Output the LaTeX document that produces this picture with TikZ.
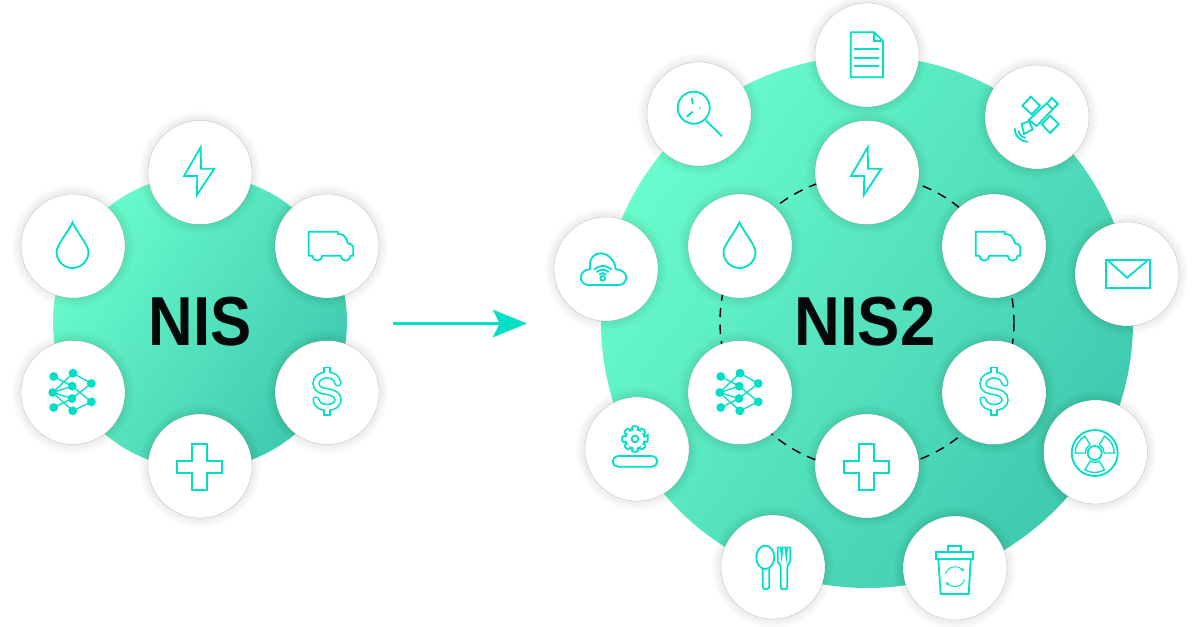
\documentclass[tikz,border=0pt]{standalone}
\usepackage{fontspec}
\setmainfont{Liberation Sans}
\usetikzlibrary{arrows.meta}
\definecolor{iconteal}{HTML}{02DFC7}
\definecolor{discA}{HTML}{69FCCD}
\definecolor{discB}{HTML}{3FC9AF}
\definecolor{titleink}{HTML}{020807}
\newcommand{\disctext}[2]{\fontsize{52}{52}\selectfont\bfseries\scalebox{#1}[1]{#2}}
\tikzset{
  bigdisc/.style={circle,inner sep=0pt,minimum size=#1,left color=discA,right color=discB,shading angle=55,text=titleink},
  whitedisc/.style={circle,inner sep=0pt,minimum size=78pt,fill=white,draw=black,draw opacity=.16,line width=.4pt},
  iconline/.style={draw=iconteal,line width=1.35pt,line join=miter},
  pics/bolt/.style={code={\draw[iconline] (.7,-25.2)--(-16,3.5)--(-2.7,3.5)--(-3.3,22.8)--(14.3,-3.8)--(1,-3.8)--cycle;}},
  pics/drop/.style={code={\draw[iconline] (-.5,-23.7) .. controls (-4,-15) and (-16.5,-1) .. (-16.5,6) .. controls (-16.5,15) and (-9,22) .. (-.5,22) .. controls (8,22) and (15.5,15) .. (15.5,6) .. controls (15.5,-1) and (3,-15) .. (-.5,-23.7)--cycle;}},
  pics/truck/.style={code={\draw[iconline] (-18.3,-14.3)--(10.7,-14.3)--(10.7,-11.7)--(14,-11.7) .. controls (18,-11) and (20,-6) .. (21,-2.7) .. controls (23,-1.5) and (26.3,-2) .. (26.3,1)--(26.3,9.7)--(23.7,9.7) arc[start angle=0,end angle=180,radius=5]--(-4.7,9.7) arc[start angle=0,end angle=180,radius=5]--(-18.3,9.7)--cycle;}},
  pics/network/.style={code={
    \draw[draw=iconteal,line width=1pt] (-19.3,-16)--(-.7,-6.3) (-20.3,0)--(0,-19.3) (-20.3,0)--(-.7,-6.3) (-20.3,0)--(-1,6) (-20.3,0)--(-.3,18.3) (-19.3,15)--(-1,6) (0,-19.3)--(18.3,-9) (-.7,-6.3)--(18.3,9.3) (-1,6)--(18.3,-9) (-.3,18.3)--(18.3,9.3);
    \foreach \px/\py in {-19.3/-16,0/-19.3,18.3/-9,-.7/-6.3,-20.3/0,-1/6,18.3/9.3,-19.3/15,-.3/18.3}{\fill[iconteal] (\px,\py) circle[radius=4.4];}
  }},
  pics/dollar/.style={code={
    \draw[draw=iconteal,line width=5.6pt,line cap=round] (11,-9.5) .. controls (10,-15) and (5,-17.5) .. (0,-17.5) .. controls (-6,-17.5) and (-11,-14) .. (-11,-9) .. controls (-11,-3) and (-5,-1.5) .. (0,-1) .. controls (6,0) and (11,2) .. (11,7.5) .. controls (11,12) and (6,15) .. (0,15) .. controls (-6,15) and (-10,12) .. (-11,7.5);
    \draw[draw=iconteal,line width=5.6pt] (0,-26) -- (0,-17) (0,15) -- (0,23);
    \draw[draw=white,line width=3.2pt,line cap=round] (11,-9.5) .. controls (10,-15) and (5,-17.5) .. (0,-17.5) .. controls (-6,-17.5) and (-11,-14) .. (-11,-9) .. controls (-11,-3) and (-5,-1.5) .. (0,-1) .. controls (6,0) and (11,2) .. (11,7.5) .. controls (11,12) and (6,15) .. (0,15) .. controls (-6,15) and (-10,12) .. (-11,7.5);
    \draw[draw=white,line width=3.2pt] (0,-24.5) -- (0,-17) (0,15) -- (0,21.5);
  }},
  pics/plus/.style={code={\draw[iconline] (-8,-22)--(6.7,-22)--(6.7,-5.3)--(21.7,-5.3)--(21.7,6.7)--(6.7,6.7)--(6.7,24)--(-8,24)--(-8,6.7)--(-23.3,6.7)--(-23.3,-5.3)--(-8,-5.3)--cycle;}},
  pics/document/.style={code={
    \draw[iconline] (-16.3,-22.7)--(7.3,-22.7)--(16,-13.7)--(16,22.3)--(-16.3,22.3)--cycle;
    \draw[iconline] (7.3,-22.7)--(7.3,-13.7)--(16,-13.7);
    \draw[iconline] (-13,-6.3)--(11.7,-6.3) (-13,2.7)--(11.7,2.7) (-13,11.3)--(11.7,11.3);
  }},
  pics/magnifier/.style={code={
    \draw[iconline] (-5.3,-6.3) circle[radius=16];
    \draw[iconline] (6.7,6.3)--(23,22.3) (-7.3,-16.3)--(-6.3,-10) (-12.3,2.7)--(-6.3,-2.3);
    \fill[iconteal] (1,-6) circle[radius=1];
  }},
  pics/satellite/.style={code={
    \draw[iconline] (-8.3,3)--(9.7,-13.7)--(15.7,-7.7)--(-.3,9)--cycle;
    \draw[iconline] (10.3,-13.7)--(14.7,-19.3)--(21,-13)--(15.7,-7.7);
    \draw[iconline] (-14.7,-11.3)--(-6.3,-20.3)--(3,-11.3)--(-5.3,-2.7)--cycle;
    \draw[iconline] (4.7,7.3)--(13,-1.3)--(21.7,7.3)--(13,16)--cycle;
    \draw[iconline] (-15.3,7)--(-8,4.3)--(-4.3,12.3)--(-13,17)--cycle;
    \draw[iconline] (-22.3,11.3) .. controls (-23,17) and (-17,25) .. (-8.7,24.7);
    \draw[iconline] (-18.3,13.7) .. controls (-18.5,17) and (-15,21) .. (-11,20.7);
  }},
  pics/envelope/.style={code={
    \draw[iconline] (-21,-14) rectangle (23,14.3);
    \draw[iconline] (-18.7,-13.3)--(0,3.7)--(20.3,-13.3);
  }},
  pics/radiation/.style={code={\begin{scope}[shift={(-.8,1)}]
    \draw[iconline] (0,0) circle[radius=23];
    \draw[iconline] (0,0) circle[radius=7];
    \foreach \sa in {180,300,60}{
      \draw[iconline,line width=1pt] ({\sa}:9.5) -- ({\sa}:19.5) arc[start angle=\sa,delta angle=60,radius=19.5] -- ({\sa+60}:9.5) arc[start angle=\sa+60,delta angle=-60,radius=9.5] -- cycle;
    }
  \end{scope}}},
  pics/cloud/.style={code={
    \draw[iconline,line join=round] (-17.7,16)--(12.3,16) .. controls (17,16) and (20.3,12.5) .. (20.3,8.3) .. controls (20.3,3.5) and (15,.3) .. (9.7,.3) .. controls (9,-9) and (2,-15.7) .. (-6,-15.7) .. controls (-12,-15.7) and (-16,-10) .. (-16,-5.7) -- (-16,.3) .. controls (-21,.3) and (-25.3,4) .. (-25.3,8.5) .. controls (-25.3,12.5) and (-22,16) .. (-17.7,16) -- cycle;
    \draw[iconline] (-3.3,9.3) circle[radius=2.4];
    \foreach \wr in {5.2,8.6,12.4}{\draw[iconline] ({-3.3+\wr*cos(225)},{9.3+\wr*sin(225)}) arc[start angle=225,end angle=315,radius=\wr];}
  }},
  pics/gear/.style={code={
    \begin{scope}[shift={(-2,-10)}]
      \draw[iconline,rounded corners=.8pt] (-13:13) \foreach \ta in {0,45,...,315}{ -- ({\ta-13}:13) -- ({\ta+13}:13) -- ({\ta+17}:9.6) -- ({\ta+28}:9.6)} -- cycle;
      \draw[iconline] (0,0) circle[radius=3.4];
    \end{scope}
    \draw[iconline,rounded corners=4pt] (-24.3,7) rectangle (20.3,17.7);
  }},
  pics/cutlery/.style={code={
    \draw[iconline] (-7.7,-9.7) circle[x radius=9,y radius=11.7];
    \draw[iconline,rounded corners=2.2pt] (-10.3,1.4)--(-10.3,22.3)--(-3.7,22.3)--(-3.7,1.4);
    \draw[iconline,rounded corners=1.6pt] (4.7,-19.7)--(4.7,-8) .. controls (4.7,-5) and (6.5,-3.5) .. (7.7,-2)--(7.7,22.3)--(14.3,22.3)--(14.3,-2) .. controls (15.5,-3.5) and (17.3,-5) .. (17.3,-8)--(17.3,-19.7);
    \draw[iconline,line width=1.1pt] (4.7,-19.7)--(7.7,-19.7)--(8.7,-10)--(9.7,-19.7)--(12.3,-19.7)--(13.3,-10)--(14.3,-19.7)--(17.3,-19.7);
  }},
  pics/trashcan/.style={code={
    \draw[iconline] (-19.3,-16) rectangle (18.3,-8.7);
    \draw[iconline] (-6.7,-16)--(-6.7,-22)--(5.7,-22)--(5.7,-16);
    \draw[iconline] (-16.7,-8.7)--(-14.3,26)--(13.7,26)--(15.7,-8.7);
    \draw[draw=iconteal,line width=.7pt,-{Stealth[length=3pt,width=3pt]}] ({10*cos(195)},{8.7+10*sin(195)}) arc[start angle=195,end angle=330,radius=10];
    \draw[draw=iconteal,line width=.7pt,-{Stealth[length=3pt,width=3pt]}] ({10*cos(15)},{8.7+10*sin(15)}) arc[start angle=15,end angle=150,radius=10];
  }},
}
\newcommand{\softhalo}[2]{\foreach \hr in {52.5,53.5,...,62}{\fill[black,opacity=.006] (#1,#2) circle[radius=\hr];}}
\newcommand{\icondisc}[4]{\softhalo{#2}{#3}\node[whitedisc] (#1) at (#2,#3) {};\pic[yscale=-1] at (#1) {#4};}
\begin{document}
\begin{tikzpicture}[x=.75pt,y=.75pt,yscale=-1]
\useasboundingbox (0,0) rectangle (1200,626);
\fill[white] (0,0) rectangle (1200,626);
% left group
\node[bigdisc=220.5pt] (nis) at (200,322) {\disctext{.89}{NIS}};
\icondisc{lbolt}{200}{172.5}{bolt}
\icondisc{ldrop}{73}{246}{drop}
\icondisc{ltruck}{327}{246}{truck}
\icondisc{lnet}{73}{392.5}{network}
\icondisc{ldollar}{327}{392.5}{dollar}
\icondisc{lplus}{200}{466}{plus}
% arrow
\coordinate (arrowfrom) at (393,323.5);
\coordinate (arrowto) at (527,323.5);
\draw[draw=iconteal,line width=2.25pt,-{Stealth[length=25.5pt,width=20.5pt,inset=5pt]}] (arrowfrom) -- (arrowto);
% right group
\node[bigdisc=399pt] (nistwo) at (867,322) {\hspace{-3pt}\disctext{.915}{NIS2}};
\draw[black,line width=1.1pt,dash pattern=on 7pt off 5.5pt] (867,322) circle[radius=147];
\icondisc{rbolt}{867}{172.5}{bolt}
\icondisc{rdrop}{740}{246}{drop}
\icondisc{rtruck}{994}{246}{truck}
\icondisc{rnet}{740}{392.5}{network}
\icondisc{rdollar}{994}{392.5}{dollar}
\icondisc{rplus}{867}{466}{plus}
\icondisc{odoc}{867}{55}{document}
\icondisc{omag}{699}{114}{magnifier}
\icondisc{osat}{1037}{117}{satellite}
\icondisc{omail}{1127}{274}{envelope}
\icondisc{orad}{1095.5}{452}{radiation}
\icondisc{ocloud}{606}{269}{cloud}
\icondisc{ogear}{637}{449}{gear}
\icondisc{ofood}{773}{567}{cutlery}
\icondisc{otrash}{955}{568}{trashcan}
\end{tikzpicture}
\end{document}
